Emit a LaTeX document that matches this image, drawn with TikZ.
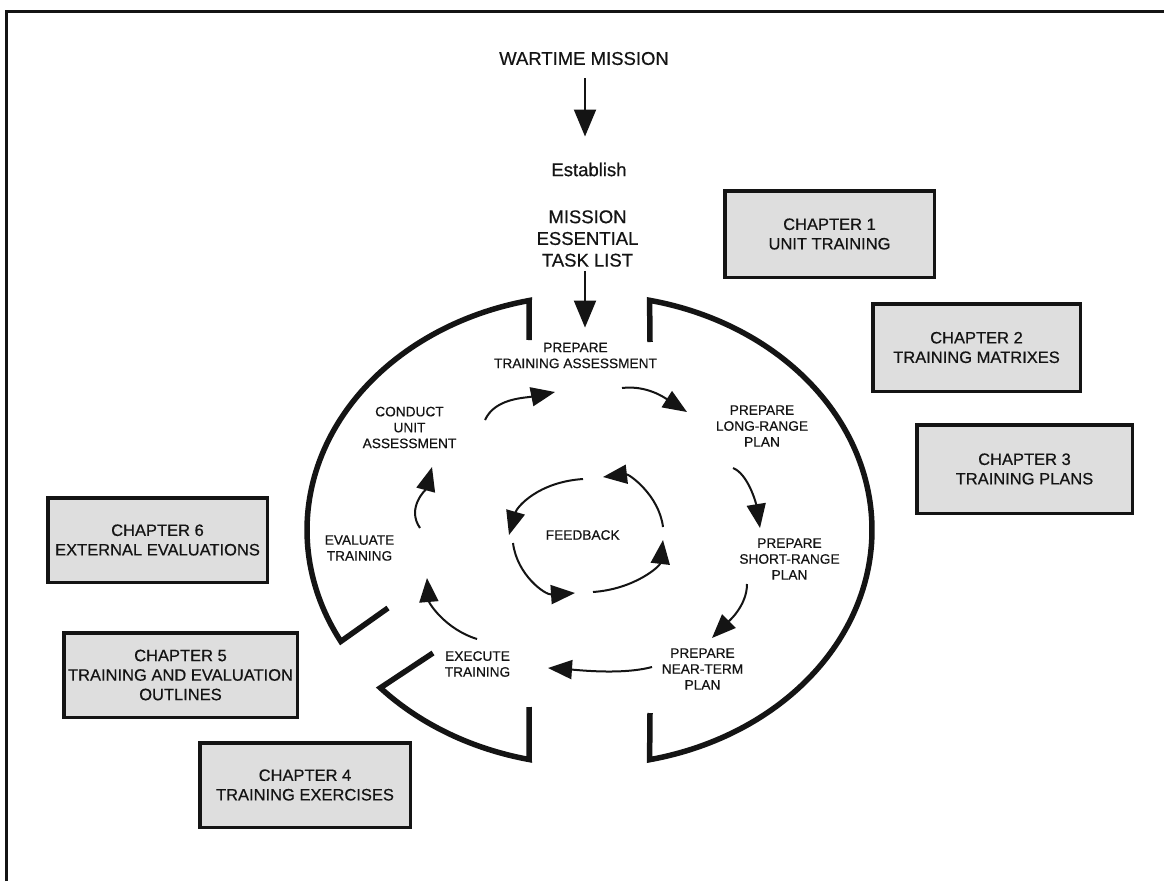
\documentclass[tikz,border=0pt]{standalone}
\usepackage{fontspec}
\setmainfont{Liberation Sans}[FakeBold=0.5]
\usetikzlibrary{arrows.meta,calc}
\definecolor{boxgray}{RGB}{222,222,222}
\definecolor{ink}{RGB}{20,20,20}
\tikzset{
  big/.style={font=\fontsize{18.5}{21.7}\selectfont, align=center, inner sep=0pt, text=ink},
  lab/.style={font=\fontsize{13.7}{15.9}\selectfont, align=center, inner sep=0pt, text=ink},
  chap/.style={draw=ink, line width=3.5pt, fill=boxgray, font=\fontsize{16.5}{19.5}\selectfont, align=center, inner sep=0pt, text=ink},
  ring/.style={draw=ink, line width=5.5pt, line join=miter},
  arr/.style={draw=ink, line width=2pt, -{Triangle[length=24pt,width=19pt]}},
  sarr/.style={draw=ink, line width=2pt, -{Triangle[length=27pt,width=22pt]}},
}
\begin{document}
\begin{tikzpicture}[x=1pt,y=-1pt]
\useasboundingbox (0,0) rectangle (1164,881);
\fill[white] (0,0) rectangle (1164,881);
% frame
\draw[ink, line width=2.5pt] (6.5,881) -- (6.5,11.5) -- (1164,11.5);

% top texts
\node[big] (wm) at (584,58.5) {WARTIME MISSION};
\node[big] (est) at (589,169.5) {Establish};
\node[big] (metl) at (587.5,238.5) {MISSION\\ESSENTIAL\\TASK LIST};

% cycle labels
\node[lab] (pta) at (575.5,355.5) {PREPARE\\TRAINING ASSESSMENT};
\node[lab] (lrp) at (762,426) {PREPARE\\LONG-RANGE\\PLAN};
\node[lab] (srp) at (789.5,559) {PREPARE\\SHORT-RANGE\\PLAN};
\node[lab] (ntp) at (702.5,669) {PREPARE\\NEAR-TERM\\PLAN};
\node[lab] (exe) at (477.5,664) {EXECUTE\\TRAINING};
\node[lab] (evt) at (359.5,548) {EVALUATE\\TRAINING};
\node[lab] (cua) at (409.5,427.5) {CONDUCT\\UNIT\\ASSESSMENT};
\node[lab] (fb) at (582.7,535) {FEEDBACK};

% chapter boxes
\node[chap, minimum width=209.5pt, minimum height=86.5pt] (ch1) at (829.5,234) {CHAPTER 1\\UNIT TRAINING};
\node[chap, minimum width=207.5pt, minimum height=87.5pt] (ch2) at (976.5,347.5) {CHAPTER 2\\TRAINING MATRIXES};
\node[chap, minimum width=215.5pt, minimum height=88.5pt] (ch3) at (1024.5,469) {CHAPTER 3\\TRAINING PLANS};
\node[chap, minimum width=219.5pt, minimum height=84.5pt] (ch6) at (157.5,540) {CHAPTER 6\\EXTERNAL EVALUATIONS};
\node[chap, minimum width=233.5pt, minimum height=84.5pt] (ch5) at (180.5,675) {CHAPTER 5\\TRAINING AND EVALUATION\\OUTLINES};
\node[chap, minimum width=210.5pt, minimum height=84.5pt] (ch4) at (305,785) {CHAPTER 4\\TRAINING EXERCISES};

% ring segments
\draw[ring] (529,340) -- plot[domain=102.4:208.3, samples=80] ({590+283*cos(\x)},{530-235*sin(\x)}) -- (388,608);
\draw[ring] (433,653) -- plot[domain=222.2:257.6, samples=40] ({590+283*cos(\x)},{530-235*sin(\x)}) -- (529,707);
\draw[ring] (650,342) -- plot[domain=77.8:-77.8, samples=120] ({590+282*cos(\x)},{530-235*sin(\x)}) -- (650,713);

% straight arrows
\draw[sarr, shorten <=13pt, shorten >=26pt] (wm.south -| 585,0) -- (est.north -| 585,0);
\draw[sarr, shorten <=4pt, shorten >=15pt] (metl.south -| 585,0) -- (pta.north -| 585,0);

% arrow end points of the cycle
\coordinate (cuaOut) at (485,420);
\coordinate (ptaIn) at (555,392);
\coordinate (ptaOut) at (622,388);
\coordinate (lrpIn) at (687,412);
\coordinate (lrpOut) at (733,468);
\coordinate (srpIn) at (760,528);
\coordinate (srpOut) at (747,584);
\coordinate (ntpIn) at (712,638);
\coordinate (ntpOut) at (652,667);
\coordinate (exeIn) at (548,668);
\coordinate (exeOut) at (477,639);
\coordinate (evtIn) at (427,578);
\coordinate (evtOut) at (420,528);
\coordinate (cuaIn) at (432,467);

\draw[arr] (cuaOut) .. controls +(10,-22) and +(-30,6) .. (ptaIn);
\draw[arr] (ptaOut) .. controls +(25,-3) and +(-22,-14) .. (lrpIn);
\draw[arr] (lrpOut) .. controls +(15,6) and +(-4,-25) .. (srpIn);
\draw[arr] (srpOut) .. controls +(0,22) and +(16,-16) .. (ntpIn);
\draw[arr] (ntpOut) .. controls +(-30,8) and +(30,2) .. (exeIn);
\draw[arr] (exeOut) .. controls +(-32,-10) and +(2,25) .. (evtIn);
\draw[arr] (evtOut) .. controls +(-14,-20) and +(-6,22) .. (cuaIn);

% feedback loop
\coordinate (f1) at (583,479);
\coordinate (f2) at (509,535);
\coordinate (f3) at (513,543);
\coordinate (f4) at (575,593);
\coordinate (f5) at (593,592);
\coordinate (f6) at (663,540);
\coordinate (f7) at (663,527);
\coordinate (f8) at (603,477);
\draw[arr] (f1) .. controls +(-45,3) and +(8,-28) .. (f2);
\draw[arr] (f3) .. controls +(4,32) and +(-30,2) .. (f4);
\draw[arr] (f5) .. controls +(42,-3) and +(-3,26) .. (f6);
\draw[arr] (f7) .. controls +(-4,-32) and +(26,-3) .. (f8);
\end{tikzpicture}
\end{document}
